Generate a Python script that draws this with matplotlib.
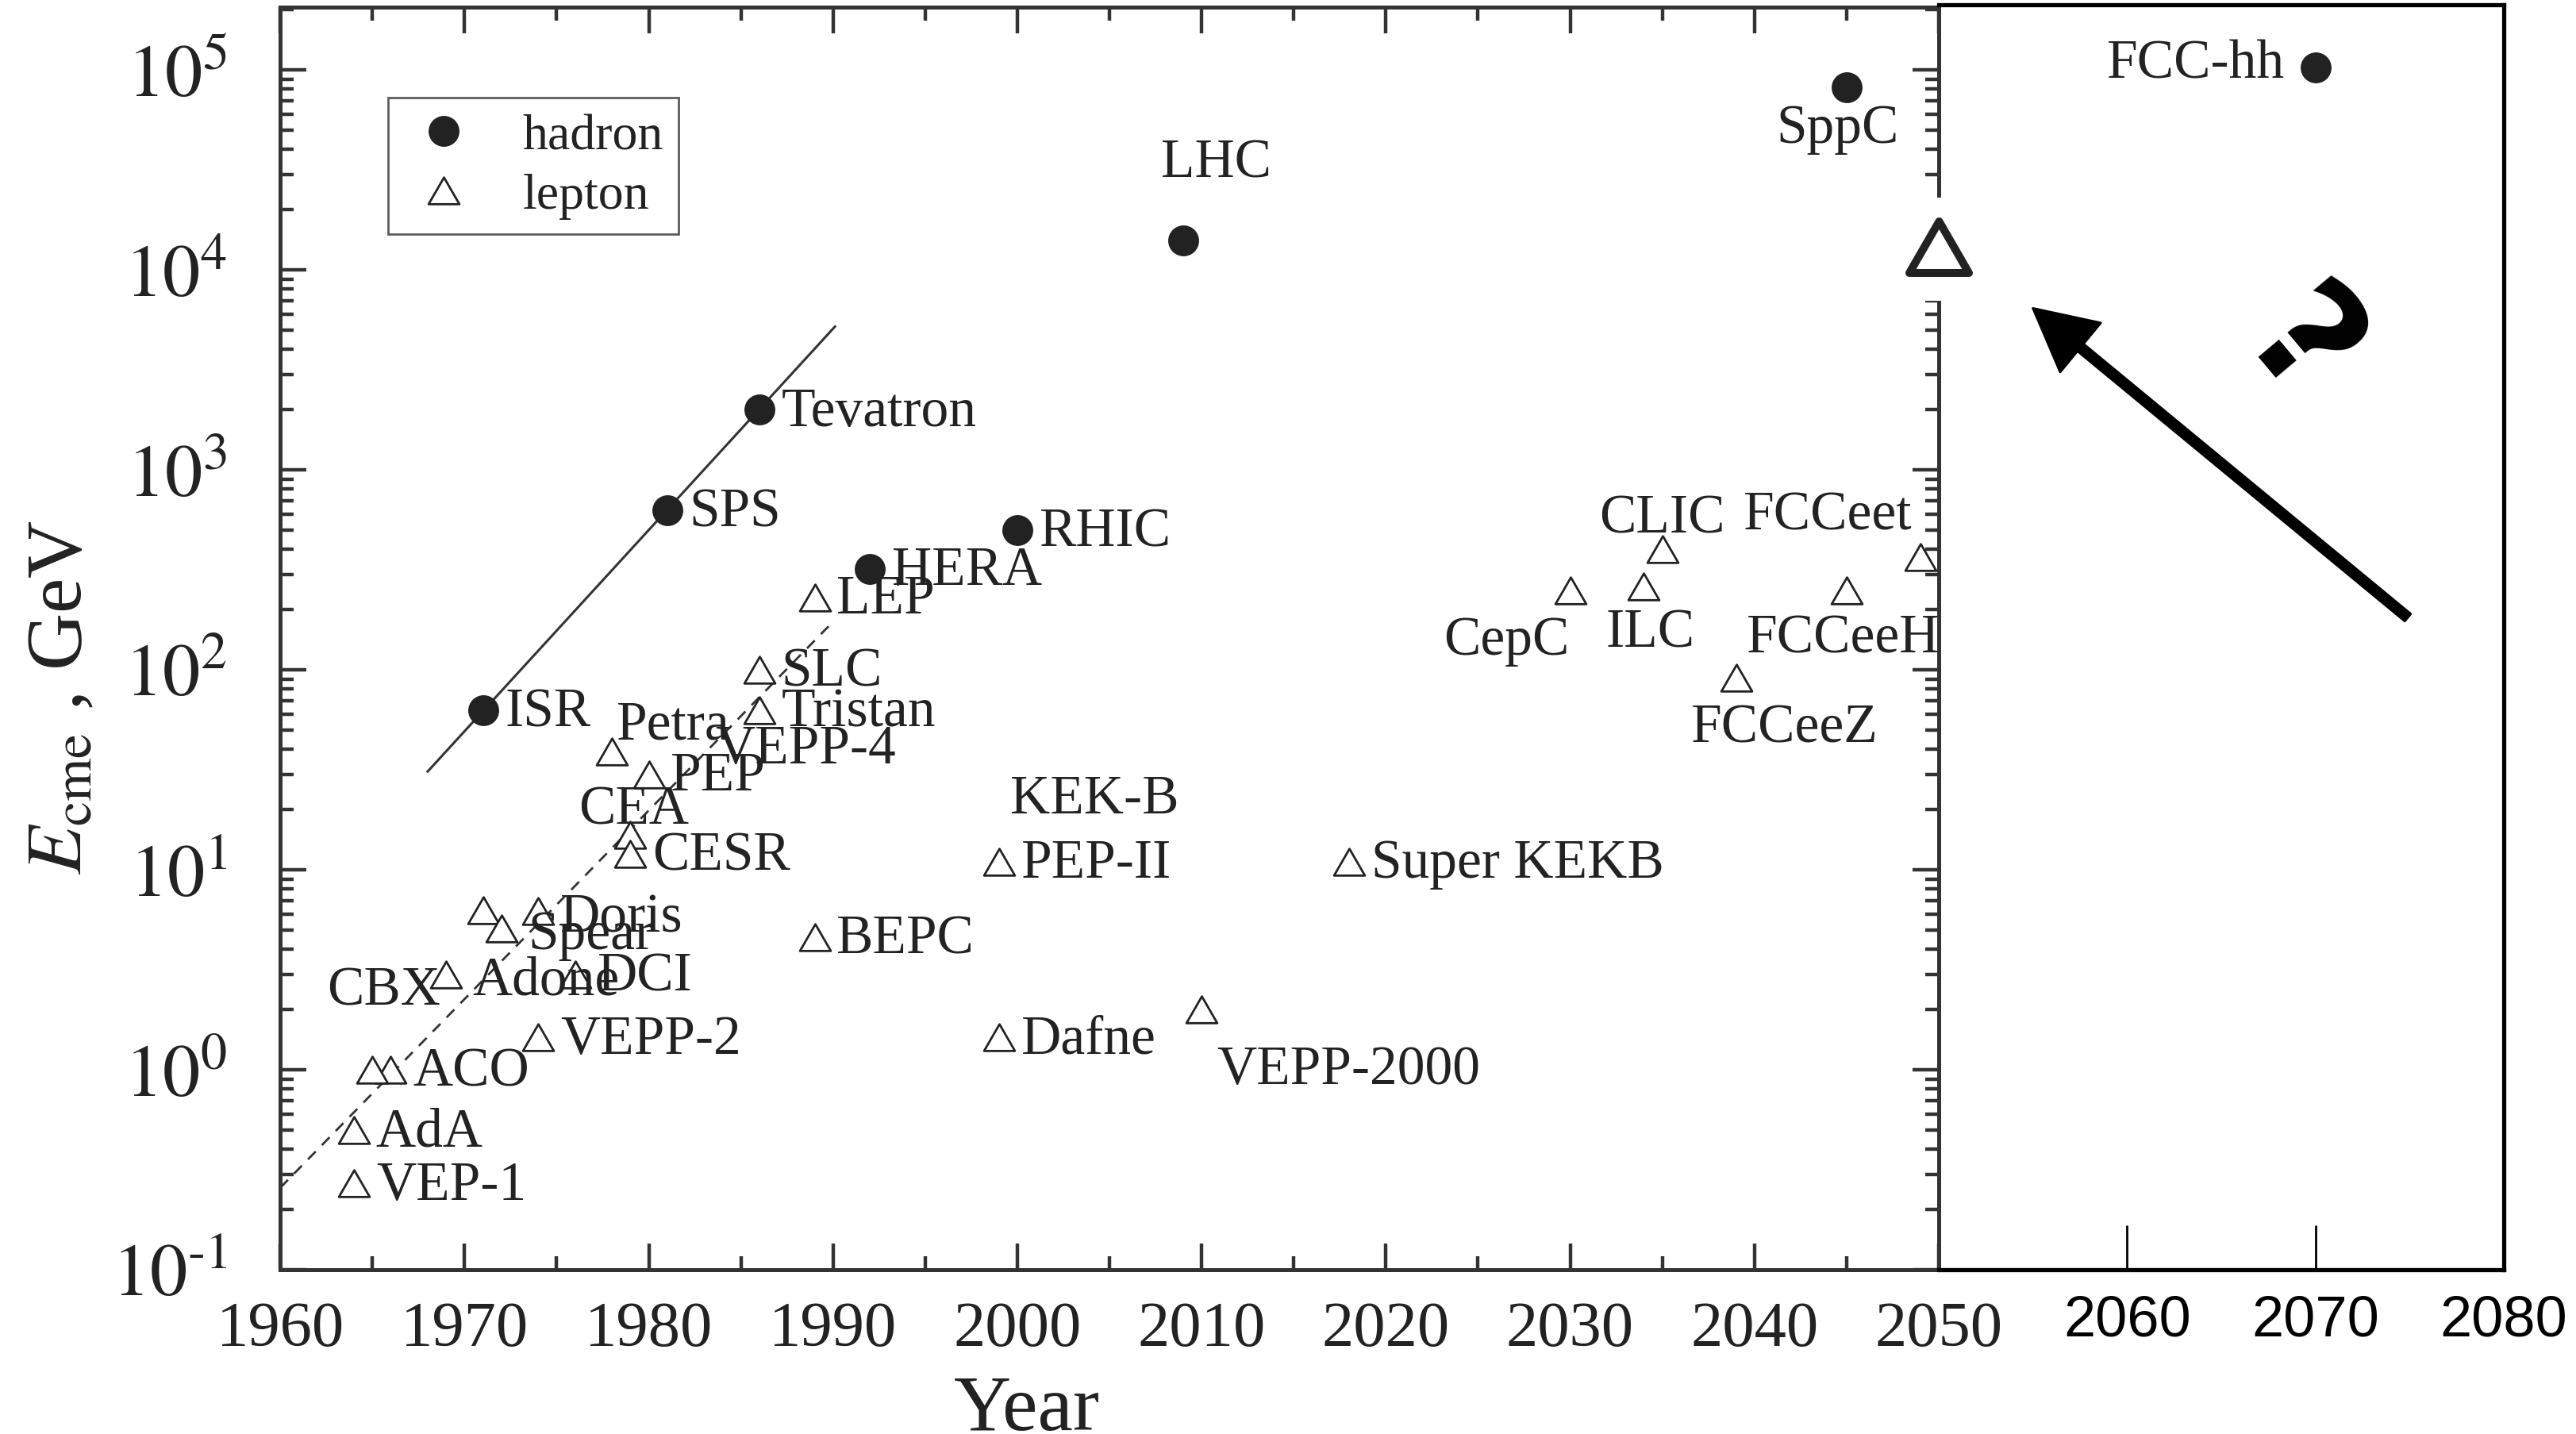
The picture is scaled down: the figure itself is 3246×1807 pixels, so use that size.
# Collider energy vs year, with an added 2050-2080 panel
import math
import matplotlib.pyplot as plt
from matplotlib.path import Path
from matplotlib.patches import Rectangle
from matplotlib.ticker import MultipleLocator, FixedLocator, NullLocator, FuncFormatter

plt.rcParams['font.family'] = ['Liberation Serif', 'DejaVu Serif']
plt.rcParams['mathtext.fontset'] = 'stix'

# hadron colliders
hadron_names = ['ISR', 'SPS', 'Tevatron', 'HERA', 'RHIC', 'LHC', 'SppC']
hadron_years = [1971, 1981, 1986, 1992, 2000, 2009, 2045]
hadron_E = [63, 630, 2000, 320, 500, 14000, 82000]

# lepton colliders ('' = unlabeled point)
lepton_names = ['VEP-1', 'AdA', 'ACO', '', 'Adone', '', 'Spear', 'Doris',
                'VEPP-2', 'DCI', 'CEA', 'CESR', 'Petra', 'PEP', 'Tristan',
                'SLC', 'LEP', 'BEPC', 'PEP-II', 'Dafne', 'VEPP-2000',
                'Super KEKB', 'CepC', 'ILC', 'CLIC', 'FCCeeZ', 'FCCeeH', 'FCCeet']
lepton_years = [1964, 1964, 1966, 1965, 1969, 1971, 1972, 1974,
                1974, 1976, 1979, 1979, 1978, 1980, 1986,
                1986, 1989, 1989, 1999, 1999, 2010,
                2018, 2030, 2034, 2035, 2039, 2045, 2049]
lepton_E = [0.27, 0.5, 1.0, 1.0, 3.0, 6.3, 5.1, 6.2,
            1.45, 3.0, 15, 12, 39, 30, 63,
            100, 230, 4.6, 11, 1.45, 2.0,
            11, 250, 260, 400, 91, 250, 365]

# labels without their own marker
extra_names = ['VEPP-4', 'KEK-B', 'CBX']
extra_years = [1988.5, 2004.2, 1965.6]
extra_E = [40, 22.5, 2.47]

# trend lines (end points)
hadron_fit_years = [1968.0, 1990.1]
hadron_fit_E = [31, 5200]
lepton_fit_years = [1960.0, 1990.0]
lepton_fit_E = [0.257, 174]

# future panel
fcc_name = 'FCC-hh'
fcc_year = 2070
fcc_E = 100000
question_year, question_E = 2050, 13000
arrow_tip = (2055.0, 6300)
arrow_tail = (2074.9, 180)
qmark_pos = (2069.1, 3870)

# label offsets in points: (dx, dy, ha); default is to the right
default_off = (10, -1, 'left')
label_off = {
    'LHC': (15, 35, 'center'), 'SppC': (-4, -19, 'center'),
    'Adone': (12, -3, 'left'), 'Spear': (12, -3, 'left'), 'Doris': (10, -3, 'left'),
    'CEA': (1.5, 11, 'center'), 'Petra': (2, 12, 'left'),
    'VEPP-2000': (7, -27.5, 'left'),
    'CepC': (-29, -23, 'center'), 'ILC': (3, -21, 'center'), 'CLIC': (0, 14, 'center'),
    'FCCeeZ': (22, -23, 'center'), 'FCCeeH': (-1.5, -22, 'center'),
    'FCCeet': (-42, 19, 'center'),
}

tri = Path([(-1, -0.866), (1, -0.866), (0, 0.866), (-1, -0.866)],
           [Path.MOVETO, Path.LINETO, Path.LINETO, Path.CLOSEPOLY])
ink = '#222222'


def pow10(v, pos):
    e = int(round(math.log10(v)))
    return r'$10^{%d}$' % e if e >= 0 else r'$10^{\mathrm{\text{-}}%d}$' % -e


fig = plt.figure(figsize=(16.23, 9.04), dpi=200)
ax1 = fig.add_axes([0.1088, 0.1145, 0.6438, 0.880])
ax2 = fig.add_axes([0.7526, 0.1145, 0.2194, 0.8816])

ax1.plot(hadron_fit_years, hadron_fit_E, color='#333333', lw=1.1, zorder=1)
ax1.plot(lepton_fit_years, lepton_fit_E, color='#333333', lw=1.0,
         ls=(0, (5, 4)), zorder=1)

h_line, = ax1.plot(hadron_years, hadron_E, 'o', ms=13, color=ink,
                   label='hadron', zorder=3)
l_line, = ax1.plot(lepton_years, lepton_E, ls='none', marker=tri, ms=14,
                   mfc='white', mec=ink, mew=1.0, label='lepton', zorder=3)

for name, x, y in list(zip(hadron_names, hadron_years, hadron_E)) + \
        list(zip(lepton_names, lepton_years, lepton_E)):
    if not name:
        continue
    dx, dy, ha = label_off.get(name, default_off)
    ax1.annotate(name, (x, y), xytext=(dx, dy), textcoords='offset points',
                 ha=ha, va='center', fontsize=25, color=ink, zorder=4)

for name, x, y in zip(extra_names, extra_years, extra_E):
    ax1.text(x, y, name, ha='center', va='center', fontsize=25, color=ink)

ax1.set_yscale('log')
ax1.set_xlim(1960, 2050)
ax1.set_ylim(0.1, 2.06e5)
ax1.xaxis.set_major_locator(MultipleLocator(10))
ax1.xaxis.set_minor_locator(MultipleLocator(5))
ax1.yaxis.set_major_formatter(FuncFormatter(pow10))
ax1.tick_params(which='both', direction='in', top=True, right=True,
                width=1.6, color='#333333', labelcolor=ink)
ax1.tick_params(which='major', length=12)
ax1.tick_params(which='minor', length=6)
ax1.tick_params(axis='x', labelsize=29, pad=14)
ax1.tick_params(axis='y', labelsize=34, pad=24)
for s in ax1.spines.values():
    s.set_linewidth(1.8)
    s.set_color('#333333')

ax1.set_xlabel('Year', fontsize=36, color=ink)
ax1.xaxis.set_label_coords(0.45, -0.083)
ax1.set_ylabel(r'$E_{\mathrm{cme}}$ , GeV', fontsize=36, color=ink)
ax1.yaxis.set_label_coords(-0.11, 0.454)

leg = ax1.legend(handles=[h_line, l_line], loc='upper left',
                 bbox_to_anchor=(0.065, 0.928), borderaxespad=0,
                 fontsize=23, fancybox=False, handlelength=1.6,
                 handletextpad=0.75, borderpad=0.3, labelspacing=0.25)
leg.get_frame().set_edgecolor('#333333')
leg.get_frame().set_linewidth(1.0)
for t in leg.get_texts():
    t.set_color(ink)

# gap in the divider with the big open triangle
ax1.add_patch(Rectangle((0.99, 0.7675), 0.02, 0.0815, transform=ax1.transAxes,
                        facecolor='white', edgecolor='none', clip_on=False,
                        zorder=10))
ax1.plot([question_year], [question_E], ls='none', marker=tri, ms=27,
         mfc='white', mec='#222222', mew=3.6, clip_on=False, zorder=11)

# future panel
ax2.patch.set_visible(False)
ax2.set_yscale('log')
ax2.set_xlim(2050, 2080)
ax2.set_ylim(0.1, 2.06e5)
ax2.spines['left'].set_visible(False)
for k in ['top', 'right', 'bottom']:
    ax2.spines[k].set_linewidth(1.9)
    ax2.spines[k].set_color('black')
ax2.xaxis.set_major_locator(FixedLocator([2060, 2070, 2080]))
ax2.xaxis.set_minor_locator(NullLocator())
ax2.yaxis.set_major_locator(NullLocator())
ax2.yaxis.set_minor_locator(NullLocator())
ax2.tick_params(axis='x', direction='in', length=20, width=1.0, pad=11,
                labelsize=26, color='black', labelcolor='black')
for t in ax2.get_xticklabels():
    t.set_family('Liberation Sans')

ax2.plot([fcc_year], [fcc_E], 'o', ms=13, color=ink)
ax2.annotate(fcc_name, (fcc_year, fcc_E), xytext=(-14, 1.5),
             textcoords='offset points', ha='right', va='center',
             fontsize=25, color=ink)

ax2.annotate('', xy=arrow_tip, xytext=arrow_tail,
             arrowprops=dict(width=4.3, headwidth=29, headlength=28,
                             facecolor='black', edgecolor='black', shrink=0))
ax2.text(qmark_pos[0], qmark_pos[1], '?', fontsize=70, fontweight='bold',
         family='DejaVu Sans', rotation=-50, ha='center', va='center')

fig.savefig('out.png', dpi=200)
